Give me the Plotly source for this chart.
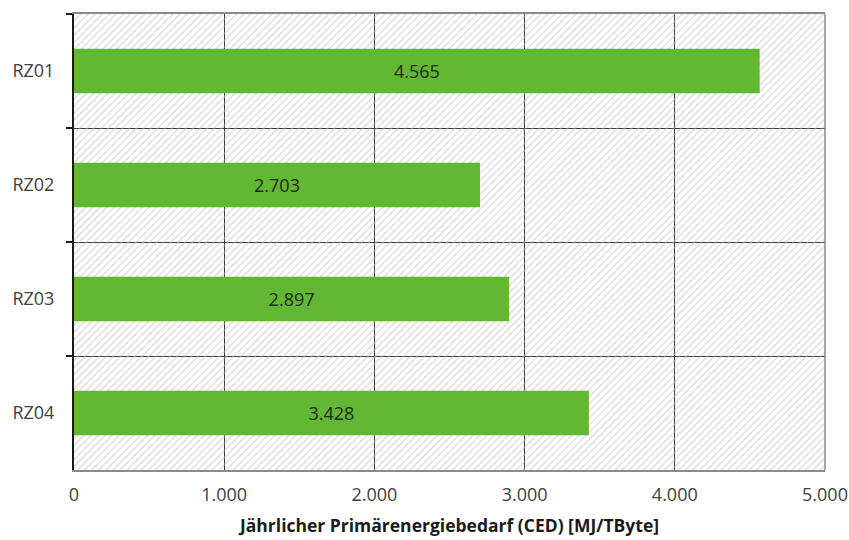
import plotly.graph_objects as go

# Data
categories = ["RZ01", "RZ02", "RZ03", "RZ04"]
ced_values = [4565, 2703, 2897, 3428]
x_ticks = [0, 1000, 2000, 3000, 4000, 5000]
x_title = "Jährlicher Primärenergiebedarf (CED) [MJ/TByte]"

X_MAX = x_ticks[-1]
FONT = "Open Sans, Noto Sans, Liberation Sans, sans-serif"

fig = go.Figure()

# Hatched plot background: one full-width band per category
fig.add_trace(go.Bar(
    y=categories,
    x=[X_MAX] * len(categories),
    orientation="h",
    width=1,
    marker=dict(
        color="rgba(0,0,0,0)",
        line=dict(width=0),
        pattern=dict(shape="/", fgcolor="#bdbdbd", bgcolor="rgba(0,0,0,0)",
                     size=5, solidity=0.3),
    ),
    hoverinfo="skip",
    showlegend=False,
))

# Value bars
fig.add_trace(go.Bar(
    y=categories,
    x=ced_values,
    orientation="h",
    width=0.39,
    marker=dict(color="#62b733", line=dict(width=0)),
    texttemplate="%{x:,}",
    textposition="inside",
    insidetextanchor="middle",
    textangle=0,
    textfont=dict(family=FONT, size=18, color="#1e2a14"),
    showlegend=False,
))

fig.update_layout(
    width=849,
    height=540,
    margin=dict(l=74, r=24, t=14, b=70, autoexpand=False),
    paper_bgcolor="white",
    plot_bgcolor="white",
    barmode="overlay",
    separators=",.",
    font=dict(family=FONT, size=18, color="#404040"),
    xaxis=dict(
        range=[0, X_MAX],
        tickvals=x_ticks,
        tickformat=",",
        automargin=False,
        showgrid=True,
        gridcolor="#3a3a3a",
        gridwidth=1,
        zeroline=False,
        showline=True,
        linecolor="#8a8a8a",
        linewidth=1.5,
        mirror=True,
        ticks="outside",
        ticklen=8,
        tickcolor="rgba(0,0,0,0)",
        tickfont=dict(size=18, color="#404040"),
        title=dict(text="<b>" + x_title + "</b>",
                   font=dict(size=17.5, color="#1a1a1a"), standoff=14),
    ),
    yaxis=dict(
        categoryorder="array",
        categoryarray=categories,
        autorange="reversed",
        automargin=False,
        tickson="boundaries",
        showgrid=True,
        gridcolor="#3a3a3a",
        gridwidth=1,
        showline=True,
        linecolor="#1a1a1a",
        linewidth=2,
        ticks="outside",
        ticklen=6,
        tickwidth=2,
        tickcolor="#1a1a1a",
        ticklabelstandoff=14,
        tickfont=dict(size=18, color="#404040"),
    ),
    shapes=[dict(type="line", xref="paper", yref="paper", x0=1, x1=1, y0=0, y1=1,
                 line=dict(color="#8a8a8a", width=1.5), layer="above")],
)

fig.write_html("out.html")
